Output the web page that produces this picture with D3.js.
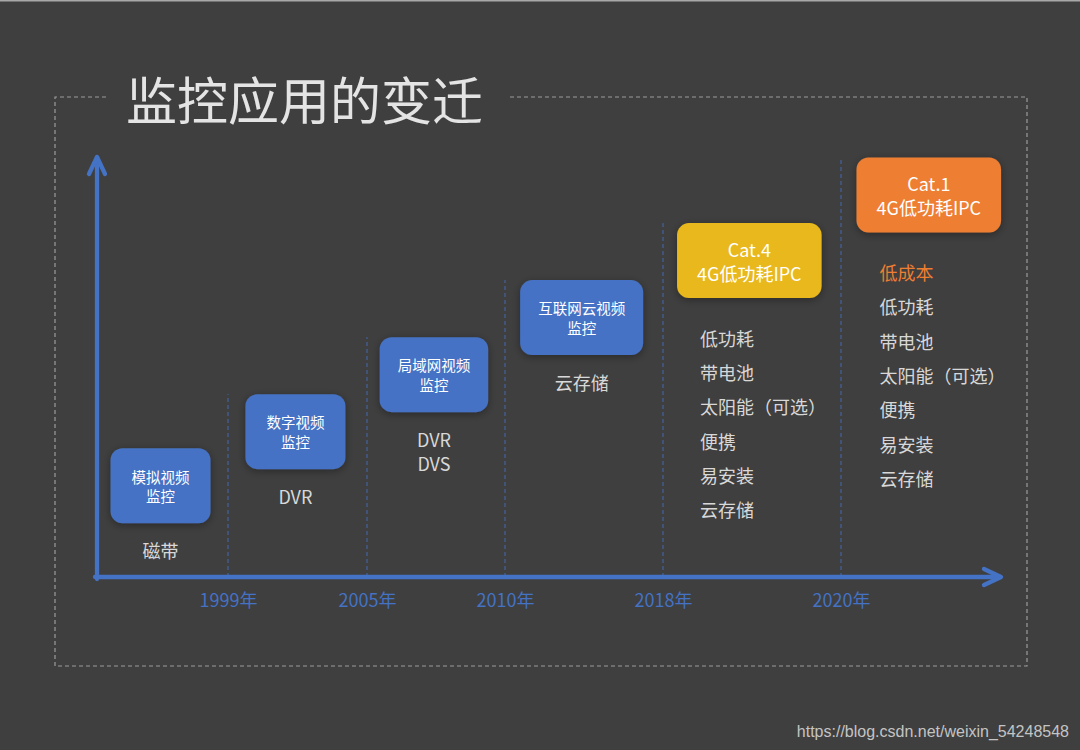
<!DOCTYPE html>
<html>
<head>
<meta charset="utf-8">
<script src="https://cdn.jsdelivr.net/npm/d3@7"></script>
<style>
  html, body { margin: 0; padding: 0; background: #3f3f3f; }
  svg { display: block; font-family: "Noto Sans CJK SC", "Noto Sans", sans-serif; }
</style>
</head>
<body>
<div id="chart"></div>
<script>
// 各阶段：方框文字、年份、高度、特点
const boxLines = [
  ['模拟视频', '监控'],
  ['数字视频', '监控'],
  ['局域网视频', '监控'],
  ['互联网云视频', '监控'],
  ['Cat.4', '4G低功耗IPC'],
  ['Cat.1', '4G低功耗IPC']
]
const boxKinds = ['blue', 'blue', 'blue', 'blue', 'yellow', 'orange']
const years = ['1999', '2005', '2010', '2018', '2020']
const levels = [1.6, 2.55, 3.55, 4.55, 5.55, 6.7]
const features = [
  ['磁带'],
  ['DVR'],
  ['DVR', 'DVS'],
  ['云存储'],
  ['低功耗', '带电池', '太阳能（可选）', '便携', '易安装', '云存储'],
  ['低成本', '低功耗', '带电池', '太阳能（可选）', '便携', '易安装', '云存储']
]
const highlighted = ['低成本']
const title = '监控应用的变迁'

const colors = {blue: '#4472c4', yellow: '#e9b81b', orange: '#ee7e32'}
const width = 1080, height = 750

const svg = d3.select('#chart').append('svg')
    .attr('width', width)
    .attr('height', height)

svg.append('rect').attr('width', width).attr('height', height).attr('fill', '#3f3f3f')
svg.append('rect').attr('width', width).attr('height', 1.5).attr('fill', '#a8a8a8')

const defs = svg.append('defs')
defs.append('filter').attr('id', 'shadow')
    .attr('x', '-30%').attr('y', '-30%').attr('width', '160%').attr('height', '160%')
  .append('feDropShadow')
    .attr('dx', 0).attr('dy', 2).attr('stdDeviation', 4)
    .attr('flood-color', '#000').attr('flood-opacity', 0.35)

// 虚线外框（顶部为标题留空）
const frame = {left: 55, top: 97, right: 1027, bottom: 666, gapFrom: 106, gapTo: 508}
svg.append('path')
    .attr('d', `M${frame.gapFrom},${frame.top}H${frame.left}V${frame.bottom}H${frame.right}V${frame.top}H${frame.gapTo}`)
    .attr('fill', 'none')
    .attr('stroke', '#9b9b9b')
    .attr('stroke-width', 1.2)
    .attr('stroke-dasharray', '4,3')

svg.append('text')
    .attr('x', 126)
    .attr('y', frame.top + 1)
    .attr('dominant-baseline', 'central')
    .attr('fill', '#e4e4e4')
    .attr('font-size', 51)
    .text(title)

// 比例尺：x 为阶段边界，y 为阶段高度
const x = d3.scaleLinear()
    .domain([0, 1, 2, 3, 4, 5, 6])
    .range([97, 228, 367, 505, 663, 841, 1022])
const y = d3.scaleLinear()
    .domain([0, 7.35])
    .range([577, 158])

const axisColor = '#4472c4'
const xEnd = 1000
const boxH = 75
const boxPos = 0.485   // 方框在各阶段内的相对位置

// 分隔虚线
svg.append('g').selectAll('line')
  .data(years)
  .join('line')
    .attr('x1', (d, i) => x(i + 1))
    .attr('x2', (d, i) => x(i + 1))
    .attr('y1', y(0))
    .attr('y2', (d, i) => y(levels[i + 1]) - boxH / 2)
    .attr('stroke', axisColor)
    .attr('stroke-opacity', 0.85)
    .attr('stroke-width', 1)
    .attr('stroke-dasharray', '4,3')

// 坐标轴与箭头
const axes = svg.append('g')
    .attr('fill', 'none')
    .attr('stroke', axisColor)
    .attr('stroke-width', 4.3)
    .attr('stroke-linecap', 'round')
    .attr('stroke-linejoin', 'round')
axes.append('path').attr('d', `M${x(0)},${y(0) + 2}V${y.range()[1]}`)
axes.append('path').attr('d', `M${x(0) - 8},${y.range()[1] + 16}L${x(0)},${y.range()[1] - 1}L${x(0) + 8},${y.range()[1] + 16}`)
axes.append('path').attr('d', `M${x(0) - 2},${y(0)}H${xEnd}`)
axes.append('path').attr('d', `M${xEnd - 16},${y(0) - 8}L${xEnd + 1},${y(0)}L${xEnd - 16},${y(0) + 8}`)

svg.append('g')
    .attr('transform', `translate(0,${y(0)})`)
    .call(d3.axisBottom(x)
      .tickValues(years.map((d, i) => i + 1))
      .tickFormat(i => years[i - 1] + '年')
      .tickSize(0)
      .tickPadding(17))
    .call(g => g.select('.domain').remove())
    .call(g => g.selectAll('text')
      .attr('fill', axisColor)
      .attr('font-size', 18)
      .attr('font-family', '"Noto Sans CJK SC", sans-serif'))

// 阶段方框
const stages = svg.append('g').selectAll('g')
  .data(boxLines)
  .join('g')
    .attr('transform', (d, i) => `translate(${x(i + boxPos)},${y(levels[i])})`)

stages.each(function(lines, i) {
  const g = d3.select(this)
  const big = boxKinds[i] !== 'blue'
  const fs = big ? 18 : 14.5
  const lh = big ? 24 : 19.5
  const rect = g.append('rect')
      .attr('fill', colors[boxKinds[i]])
      .attr('filter', 'url(#shadow)')
      .attr('rx', 12)
  const txt = g.append('text')
      .attr('text-anchor', 'middle')
      .attr('fill', '#ffffff')
      .attr('font-size', fs)
  txt.selectAll('tspan')
    .data(lines)
    .join('tspan')
      .attr('x', 0)
      .attr('y', (d, j) => (j - (lines.length - 1) / 2) * lh)
      .attr('dominant-baseline', 'central')
      .text(d => d)
  const tw = d3.max(txt.selectAll('tspan').nodes(), n => n.getComputedTextLength())
  const w = big ? tw + 40 : Math.max(100, tw + 36)
  rect.attr('x', -w / 2).attr('y', -boxH / 2).attr('width', w).attr('height', boxH)

  // 特点
  const list = features[i]
  const isList = list.length > 2
  const step = isList ? 34.3 : 23.5
  const start = boxH / 2 + (isList ? 39.5 : 27)
  g.append('g').selectAll('text')
    .data(list)
    .join('text')
      .attr('x', isList ? -w / 2 + 23 : 0)
      .attr('y', (d, j) => start + j * step)
      .attr('text-anchor', isList ? 'start' : 'middle')
      .attr('dominant-baseline', 'central')
      .attr('font-size', 18)
      .attr('fill', d => highlighted.includes(d) ? colors.orange : '#d8d8d8')
      .text(d => d)
})

svg.append('text')
    .attr('x', 1069)
    .attr('y', 731)
    .attr('text-anchor', 'end')
    .attr('dominant-baseline', 'central')
    .attr('font-family', '"Liberation Sans", Arial, sans-serif')
    .attr('font-size', 16)
    .attr('fill', '#c4c4c4')
    .text('https://blog.csdn.net/weixin_54248548')
</script>
</body>
</html>
